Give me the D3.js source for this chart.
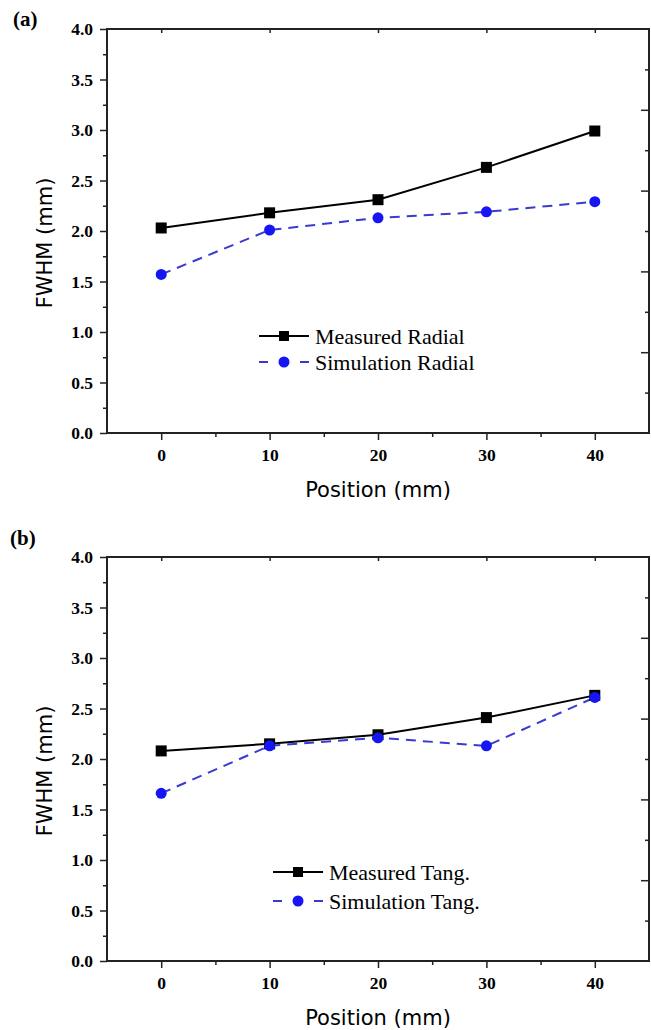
<!DOCTYPE html>
<html>
<head>
<meta charset="utf-8">
<script src="https://cdn.jsdelivr.net/npm/d3@7"></script>
<style>
  html, body { margin: 0; padding: 0; background: #fff; }
  svg { display: block; }
</style>
</head>
<body>
<svg id="chart" width="651" height="1030"></svg>
<script>
// ---- data ----
const positions = [0, 10, 20, 30, 40];
const measuredRadial = [2.03, 2.18, 2.31, 2.63, 2.99];
const simulationRadial = [1.57, 2.01, 2.13, 2.19, 2.29];
const measuredTang = [2.08, 2.15, 2.24, 2.41, 2.63];
const simulationTang = [1.66, 2.13, 2.21, 2.13, 2.61];
const xTickValues = [0, 10, 20, 30, 40];
const xMinorTickValues = [5, 15, 25, 35];
const yTickValues = [0.0, 0.5, 1.0, 1.5, 2.0, 2.5, 3.0, 3.5, 4.0];
const yMinorTickValues = [0.25, 0.75, 1.25, 1.75, 2.25, 2.75, 3.25, 3.75];
const yRightMajor = [0.8, 1.6, 2.4, 3.2];
const yRightMinor = [0.4, 1.2, 2.0, 2.8, 3.6];
const panelLabels = ["(a)", "(b)"];
const legendMeasured = ["Measured Radial", "Measured Tang."];
const legendSimulation = ["Simulation Radial", "Simulation Tang."];
const xTitle = "Position (mm)";
const yTitle = "FWHM (mm)";

// ---- layout ----
const svg = d3.select("#chart");
const left = 107, right = 649;
const panels = [
  { top: 29, bottom: 433, label: panelLabels[0], labelX: 13, labelY: 26,
    meas: measuredRadial, sim: simulationRadial,
    legX: 259, legTextX: 315, legY1: 336, legY2: 362,
    legM: legendMeasured[0], legS: legendSimulation[0] },
  { top: 557, bottom: 961, label: panelLabels[1], labelX: 10, labelY: 545,
    meas: measuredTang, sim: simulationTang,
    legX: 273, legTextX: 329, legY1: 872, legY2: 901,
    legM: legendMeasured[1], legS: legendSimulation[1] }
];

const axisColor = "#222";
const blue = "#1616f5";
const blueLine = "#3a3ad0";
const serif = "'Liberation Serif', 'Times New Roman', serif";
const sans = "'DejaVu Sans', Verdana, sans-serif";

const x = d3.scaleLinear().domain([-5, 45]).range([left, right]);

function styleAxis(g) {
  g.select(".domain").remove();
  g.selectAll(".tick line").attr("stroke", axisColor).attr("stroke-width", 1.5);
  g.selectAll(".tick text").attr("font-family", serif).attr("font-weight", "bold")
    .attr("font-size", 17.5).attr("fill", "#000");
}

panels.forEach(p => {
  const y = d3.scaleLinear().domain([0, 4]).range([p.bottom, p.top]);
  const g = svg.append("g");

  // left axis major + minor
  g.append("g").attr("transform", `translate(${left},0)`)
    .call(d3.axisLeft(y).tickValues(yTickValues).tickSize(7).tickPadding(7)
      .tickFormat(d3.format(".1f")))
    .call(styleAxis);
  g.append("g").attr("transform", `translate(${left},0)`)
    .call(d3.axisLeft(y).tickValues(yMinorTickValues).tickSize(4).tickFormat(""))
    .call(styleAxis);

  // bottom axis major + minor
  g.append("g").attr("transform", `translate(0,${p.bottom})`)
    .call(d3.axisBottom(x).tickValues(xTickValues).tickSize(7).tickPadding(9)
      .tickFormat(d3.format("d")))
    .call(styleAxis);
  g.append("g").attr("transform", `translate(0,${p.bottom})`)
    .call(d3.axisBottom(x).tickValues(xMinorTickValues).tickSize(4).tickFormat(""))
    .call(styleAxis);

  // top axis (inward ticks)
  g.append("g").attr("transform", `translate(0,${p.top})`)
    .call(d3.axisBottom(x).tickValues(xTickValues).tickSize(4).tickFormat(""))
    .call(styleAxis);

  // right axis (inward ticks)
  g.append("g").attr("transform", `translate(${right},0)`)
    .call(d3.axisLeft(y).tickValues(yRightMajor).tickSize(8).tickFormat(""))
    .call(styleAxis);
  g.append("g").attr("transform", `translate(${right},0)`)
    .call(d3.axisLeft(y).tickValues(yRightMinor).tickSize(4).tickFormat(""))
    .call(styleAxis);

  // frame
  g.append("rect").attr("x", left).attr("y", p.top)
    .attr("width", right - left).attr("height", p.bottom - p.top)
    .attr("fill", "none").attr("stroke", axisColor).attr("stroke-width", 2);

  // lines
  const line = d3.line().x((d, i) => x(positions[i])).y(d => y(d));
  g.append("path").datum(p.sim).attr("d", line).attr("fill", "none")
    .attr("stroke", blueLine).attr("stroke-width", 2).attr("stroke-dasharray", "10,7");
  g.append("path").datum(p.meas).attr("d", line).attr("fill", "none")
    .attr("stroke", "#000").attr("stroke-width", 2);

  // markers
  g.selectAll(".sq").data(p.meas).enter().append("rect")
    .attr("x", (d, i) => x(positions[i]) - 5.5).attr("y", d => y(d) - 5.5)
    .attr("width", 11).attr("height", 11).attr("fill", "#000");
  g.selectAll(".ci").data(p.sim).enter().append("circle")
    .attr("cx", (d, i) => x(positions[i])).attr("cy", d => y(d))
    .attr("r", 5.5).attr("fill", blue);

  // legend
  g.append("line").attr("x1", p.legX).attr("x2", p.legX + 50)
    .attr("y1", p.legY1).attr("y2", p.legY1).attr("stroke", "#000").attr("stroke-width", 2);
  g.append("rect").attr("x", p.legX + 25 - 5).attr("y", p.legY1 - 5)
    .attr("width", 10).attr("height", 10).attr("fill", "#000");
  g.append("text").attr("x", p.legTextX).attr("y", p.legY1).attr("dy", "0.35em")
    .attr("font-family", serif).attr("font-size", 22).attr("fill", "#000")
    .text(p.legM);
  g.append("line").attr("x1", p.legX).attr("x2", p.legX + 50)
    .attr("y1", p.legY2).attr("y2", p.legY2).attr("stroke", blueLine).attr("stroke-width", 2)
    .attr("stroke-dasharray", "9,32");
  g.append("circle").attr("cx", p.legX + 25).attr("cy", p.legY2).attr("r", 5.5).attr("fill", blue);
  g.append("text").attr("x", p.legTextX).attr("y", p.legY2).attr("dy", "0.35em")
    .attr("font-family", serif).attr("font-size", 22).attr("fill", "#000")
    .text(p.legS);

  // titles
  g.append("text").attr("x", (left + right) / 2).attr("y", p.bottom + 64)
    .attr("text-anchor", "middle").attr("font-family", sans).attr("font-size", 21)
    .attr("fill", "#000").text(xTitle);
  g.append("text")
    .attr("transform", `translate(52,${(p.top + p.bottom) / 2 + 12}) rotate(-90)`)
    .attr("text-anchor", "middle").attr("font-family", sans).attr("font-size", 21)
    .attr("fill", "#000").text(yTitle);

  // panel label
  g.append("text").attr("x", p.labelX).attr("y", p.labelY)
    .attr("font-family", serif).attr("font-weight", "bold").attr("font-size", 21)
    .attr("fill", "#000").text(p.label);
});
</script>
</body>
</html>
